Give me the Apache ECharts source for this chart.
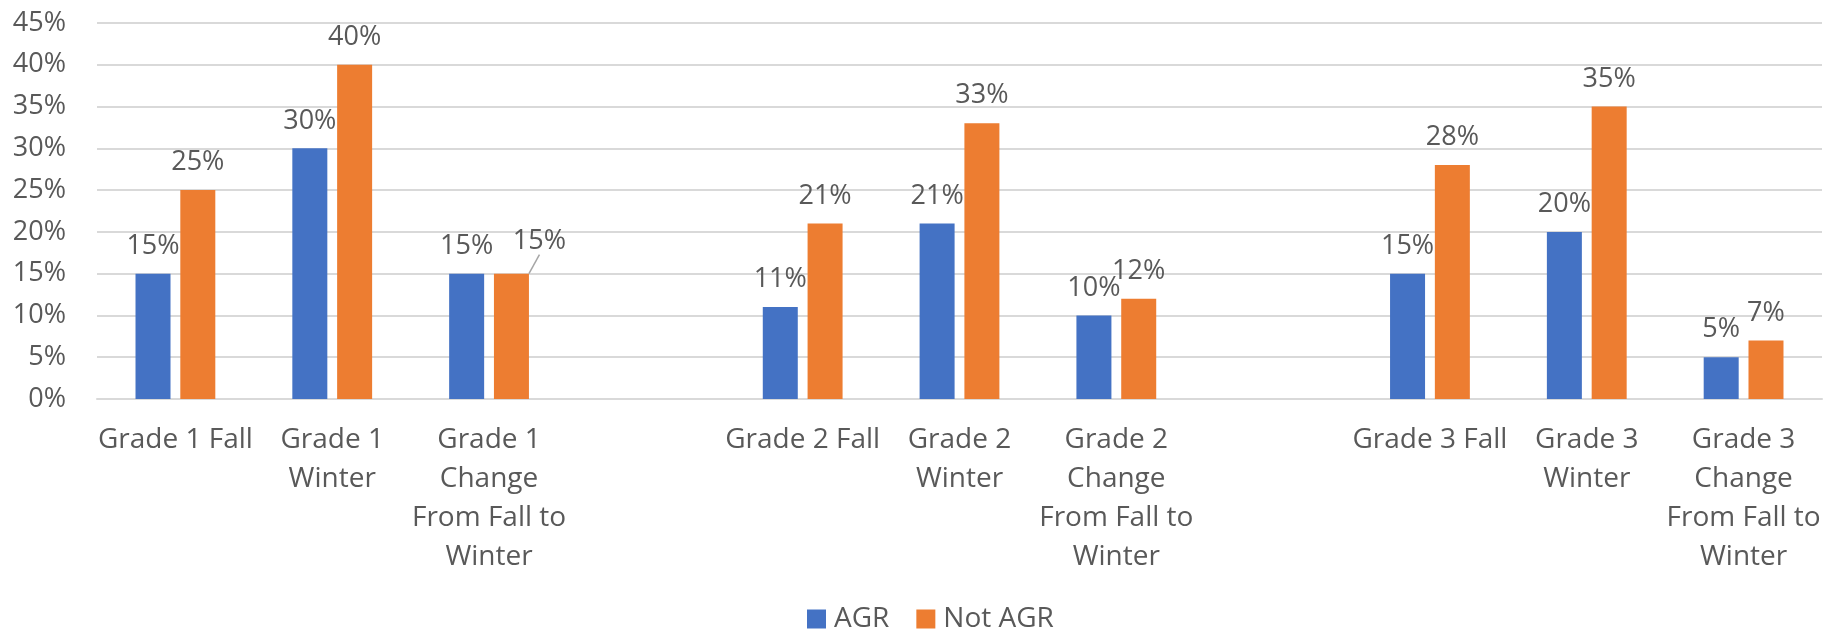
<!DOCTYPE html>
<html>
<head>
<meta charset="utf-8">
<script src="https://cdn.jsdelivr.net/npm/echarts@6/dist/echarts.min.js"></script>
<style>
  html, body { margin: 0; padding: 0; background: #fff; }
  #chart { width: 1824px; height: 631px; }
</style>
</head>
<body>
<div id="chart"></div>
<script>
// categories ('' = empty spacer slot between grades)
var categories = [
  'Grade 1 Fall', 'Grade 1\nWinter', 'Grade 1\nChange\nFrom Fall to\nWinter', '',
  'Grade 2 Fall', 'Grade 2\nWinter', 'Grade 2\nChange\nFrom Fall to\nWinter', '',
  'Grade 3 Fall', 'Grade 3\nWinter', 'Grade 3\nChange\nFrom Fall to\nWinter'
];
var agr    = [15, 30, 15, '-', 11, 21, 10, '-', 15, 20, 5];
var notAgr = [25, 40, 15, '-', 21, 33, 12, '-', 28, 35, 7];
var yTicks = { min: 0, max: 45, interval: 5 };

var FONT = '"Open Sans", sans-serif';
var TEXT = '#595959';

var chart = echarts.init(document.getElementById('chart'));

var labelCfg = {
  show: true,
  position: 'top',
  distance: 14,
  color: TEXT,
  fontSize: 27,
  fontFamily: FONT,
  formatter: function (p) { return p.value + '%'; }
};

// Grade 1 change "Not AGR" label is pushed aside with a leader line
var notAgrData = notAgr.map(function (v, i) {
  if (i === 2) {
    return { value: v, labelLine: { show: true } };
  }
  return v;
});

var option = {
  animation: false,
  grid: { left: 97, right: 2, top: 23, bottom: 232, containLabel: false },
  legend: {
    top: 600,
    left: 802,
    itemWidth: 19,
    itemHeight: 19,
    itemGap: 27,
    icon: 'rect',
    textStyle: { color: TEXT, fontSize: 28, fontFamily: FONT, padding: [0, 0, 0, 3] }
  },
  xAxis: {
    type: 'category',
    data: categories,
    axisLine: { lineStyle: { color: '#d9d9d9', width: 2 } },
    axisTick: { show: false },
    axisLabel: {
      interval: 0,
      margin: 22,
      color: TEXT,
      fontSize: 28,
      lineHeight: 39,
      fontFamily: FONT
    }
  },
  yAxis: {
    type: 'value',
    min: yTicks.min,
    max: yTicks.max,
    interval: yTicks.interval,
    axisLine: { show: false },
    axisTick: { show: false },
    axisLabel: {
      color: TEXT,
      fontSize: 27,
      fontFamily: FONT,
      margin: 31,
      formatter: '{value}%'
    },
    splitLine: { lineStyle: { color: '#d9d9d9', width: 2 } }
  },
  series: [
    {
      name: 'AGR',
      type: 'bar',
      data: agr,
      barWidth: 35,
      barGap: '28%',
      itemStyle: { color: '#4472C4' },
      label: labelCfg
    },
    {
      name: 'Not AGR',
      type: 'bar',
      data: notAgrData,
      barWidth: 35,
      itemStyle: { color: '#ED7D31' },
      label: labelCfg,
      labelLine: { show: false, lineStyle: { color: '#a6a6a6', width: 1.5 } },
      labelLayout: function (p) {
        if (p.dataIndex === 2) return { dx: 28, dy: -5 };
        return {};
      }
    }
  ]
};

chart.setOption(option);
</script>
</body>
</html>
